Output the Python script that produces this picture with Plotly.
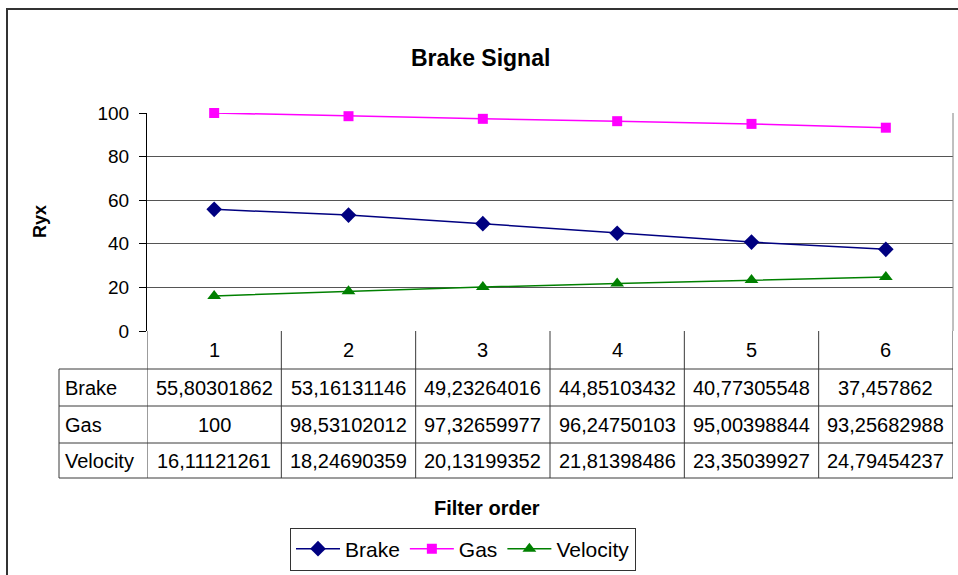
import plotly.graph_objects as go

# Filter orders and correlation values per signal
orders = [1, 2, 3, 4, 5, 6]
brake = [55.80301862, 53.16131146, 49.23264016, 44.85103432, 40.77305548, 37.457862]
gas = [100, 98.53102012, 97.32659977, 96.24750103, 95.00398844, 93.25682988]
velocity = [16.11121261, 18.24690359, 20.13199352, 21.81398486, 23.35039927, 24.79454237]
y_ticks = [0, 20, 40, 60, 80, 100]

W, H = 958, 575
FONT = "Liberation Sans, Arial, sans-serif"


def px(x):
    return x / W


def py(y):
    return 1 - y / H


series = [
    ("Brake", brake, "#000080", "diamond", 12),
    ("Gas", gas, "#FF00FF", "square", 10),
    ("Velocity", velocity, "#008000", "triangle-up", 12),
]

fig = go.Figure()
for name, vals, color, sym, size in series:
    fig.add_trace(go.Scatter(
        x=orders, y=vals, name=name, mode="lines+markers", cliponaxis=False,
        line=dict(color=color, width=1.5),
        marker=dict(symbol=sym, size=size, color=color),
    ))

LINE = "#3a3a3a"
shapes = []
# outer chart frame
shapes.append(dict(type="rect", xref="paper", yref="paper",
                   x0=px(7), x1=px(W + 20), y0=py(9), y1=py(H + 20),
                   line=dict(color="#333333", width=2)))
# right edge of plot area
shapes.append(dict(type="line", xref="paper", yref="paper",
                   x0=px(953), x1=px(953), y0=py(113), y1=py(331),
                   line=dict(color="#808080", width=1)))

# data table grid
row_tops = [331, 369, 406, 443, 478]
edges = [o - 0.5 for o in orders] + [orders[-1] + 0.5]
for e in edges:
    shapes.append(dict(type="line", xref="x", yref="paper",
                       x0=e, x1=e, y0=py(331), y1=py(478),
                       line=dict(color=LINE, width=1)))
shapes.append(dict(type="line", xref="paper", yref="paper",
                   x0=px(59), x1=px(59), y0=py(369), y1=py(478),
                   line=dict(color=LINE, width=1)))
for r in row_tops[1:]:
    shapes.append(dict(type="line", xref="paper", yref="paper",
                       x0=px(59), x1=px(953), y0=py(r), y1=py(r),
                       line=dict(color=LINE, width=1)))

annotations = []
cell_font = dict(family=FONT, size=20, color="black")
# header row: filter orders
for o in orders:
    annotations.append(dict(x=o, y=py((row_tops[0] + row_tops[1]) / 2), xref="x", yref="paper",
                            text=str(o), showarrow=False, font=cell_font,
                            xanchor="center", yanchor="middle"))


def fmt(v):
    return f"{v:.10g}".replace(".", ",")


for i, (name, vals, _, _, _) in enumerate(series):
    yc = py((row_tops[i + 1] + row_tops[i + 2]) / 2)
    annotations.append(dict(x=px(63), y=yc, xref="paper", yref="paper",
                            text=name, showarrow=False, font=cell_font,
                            xanchor="left", yanchor="middle"))
    for o, v in zip(orders, vals):
        annotations.append(dict(x=o, y=yc, xref="x", yref="paper",
                                text=fmt(v), showarrow=False, font=cell_font,
                                xanchor="center", yanchor="middle"))

# titles
annotations.append(dict(x=px(480), y=py(58), xref="paper", yref="paper",
                        text="<b>Brake Signal</b>", showarrow=False,
                        font=dict(family=FONT, size=23, color="black"),
                        xanchor="center", yanchor="middle"))
annotations.append(dict(x=px(487), y=py(508), xref="paper", yref="paper",
                        text="<b>Filter order</b>", showarrow=False,
                        font=dict(family=FONT, size=20, color="black"),
                        xanchor="center", yanchor="middle"))
annotations.append(dict(x=px(40), y=py(222), xref="paper", yref="paper",
                        text="<b>Ryx</b>", showarrow=False, textangle=-90,
                        font=dict(family=FONT, size=18, color="black"),
                        xanchor="center", yanchor="middle"))

fig.update_layout(
    width=W, height=H,
    margin=dict(l=0, r=0, t=0, b=0, autoexpand=False),
    paper_bgcolor="white", plot_bgcolor="white",
    showlegend=True,
    legend=dict(orientation="h", x=px(463), y=py(549), xanchor="center", yanchor="middle",
                bordercolor="#333333", borderwidth=1, bgcolor="white",
                font=dict(family=FONT, size=21, color="black"),
                itemwidth=44, tracegroupgap=0),
    xaxis=dict(domain=[px(147), px(953)], range=[0.5, 6.5], showgrid=False,
               showticklabels=False, zeroline=False, showline=False, ticks="",
               automargin=False),
    yaxis=dict(domain=[py(331), py(113)], range=[0, 100], tickvals=y_ticks,
               showgrid=True, gridcolor="#555555", gridwidth=1,
               showline=True, linecolor="black", linewidth=1,
               ticks="outside", ticklen=7, tickcolor="black",
               ticklabelstandoff=6, zeroline=False, automargin=False,
               tickfont=dict(family=FONT, size=19, color="black")),
    shapes=shapes,
    annotations=annotations,
)

fig.write_html("out.html")
